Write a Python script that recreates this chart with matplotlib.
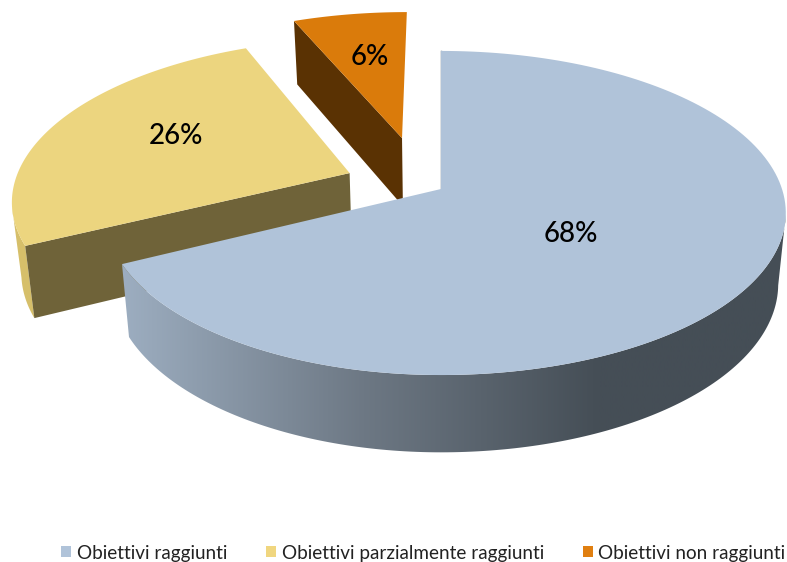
"""Exploded 3-D style pie of the objectives reached."""

from __future__ import annotations

import matplotlib

matplotlib.use("Agg")
import matplotlib.pyplot as plt
import numpy as np
from matplotlib.colors import LinearSegmentedColormap
from matplotlib.patches import Patch, Polygon

categories = [
    "Obiettivi raggiunti",
    "Obiettivi parzialmente raggiunti",
    "Obiettivi non raggiunti",
]
values = [67.7, 25.9, 6.4]

TOP_COLORS = ["#b0c3d9", "#ecd57f", "#da7b0b"]
CUT_COLORS = ["#5f6b78", "#6f6339", "#5a3203"]
LEGEND_COLORS = ["#b0c3d9", "#f0d67f", "#e07f10"]
YELLOW_RIM = "#d6bf6a"

# screen geometry of the tilted disc, in pixels
CENTER_X, CENTER_Y = 441.0, 189.0
RADIUS_X, RADIUS_Y = 341.0, 158.5
PERSPECTIVE = 0.148
RIM_LEAN = 0.022
LEFT_SQUEEZE = [0.975, 0.988, 1.0]
EXPLODE = [(0.0, 0.0), (-0.272, 0.102), (-0.12, 0.337)]
LABEL_XY = [(571, 234), (176, 136), (370, 57)]

plt.rcParams["font.family"] = ["Lato", "DejaVu Sans"]


def project(u, v):
    scale = 1.0 / (1.0 + PERSPECTIVE * np.asarray(v))
    x = CENTER_X + RADIUS_X * np.asarray(u) * scale
    y = CENTER_Y - RADIUS_Y * np.asarray(v) * scale
    return x, y, scale


def lower_edge(x, y, scale):
    # the rim gets taller towards the viewer and leans in towards the middle
    return x - RIM_LEAN * (x - CENTER_X), y + 28.0 + 42.0 * scale


def rim_points(start, end, index, count=160):
    """Points on a slice's outer edge, angles clockwise from the top in degrees."""
    angle = np.radians(np.linspace(start, end, count))
    u = np.sin(angle)
    u = np.where(u < 0, u * LEFT_SQUEEZE[index], u)
    return project(u + EXPLODE[index][0], np.cos(angle) + EXPLODE[index][1])


def side_polygon(start, end, index):
    x, y, scale = rim_points(start, end, index)
    low_x, low_y = lower_edge(x, y, scale)
    return np.column_stack(
        [np.concatenate([x, low_x[::-1]]), np.concatenate([y, low_y[::-1]])]
    )


def cut_polygon(angle, index):
    x0, y0, s0 = project(*EXPLODE[index])
    x1, y1, s1 = rim_points(angle, angle, index, count=1)
    low_x0, low_y0 = lower_edge(x0, y0, s0)
    low_x1, low_y1 = lower_edge(x1[0], y1[0], s1[0])
    return [(x0, y0), (x1[0], y1[0]), (low_x1, low_y1), (low_x0, low_y0)]


def top_polygon(start, end, index):
    x0, y0, _ = project(*EXPLODE[index])
    x, y, _ = rim_points(start, end, index)
    return np.column_stack([np.r_[x0, x], np.r_[y0, y]])


edges = np.cumsum([0.0] + values) / sum(values) * 360.0

figure, axis = plt.subplots(figsize=(7.87, 5.62), dpi=100)
figure.subplots_adjust(left=0, right=1, top=1, bottom=0)
axis.axis("off")

# yellow slice, rim only as far as its silhouette
axis.add_patch(Polygon(side_polygon(edges[1], edges[1] + 14, 1), fc=YELLOW_RIM, lw=0))
axis.add_patch(Polygon(cut_polygon(edges[1], 1), fc=CUT_COLORS[1], lw=0))
axis.add_patch(Polygon(top_polygon(edges[1], edges[2], 1), fc=TOP_COLORS[1], lw=0))

# orange slice
axis.add_patch(Polygon(cut_polygon(edges[2], 2), fc=CUT_COLORS[2], lw=0))
axis.add_patch(Polygon(top_polygon(edges[2], edges[3], 2), fc=TOP_COLORS[2], lw=0))

# blue slice: shaded rim, then the cut line and the top
shade = LinearSegmentedColormap.from_list(
    "rim", [(0.0, "#9eafc2"), (0.37, "#6d7884"), (0.72, "#454e56"), (1.0, "#454e56")]
)
rim_shape = Polygon(side_polygon(99, edges[1], 0), fc="none", lw=0)
axis.add_patch(rim_shape)
gradient = axis.imshow(
    np.linspace(0, 1, 256).reshape(1, -1),
    cmap=shade,
    extent=(115, 787, 562, 0),
    aspect="auto",
    zorder=1,
)
gradient.set_clip_path(rim_shape)
axis.set_xlim(0, 787)
axis.set_ylim(562, 0)

start_x, start_y, _ = project(0.0, 1.0)
axis.plot(
    [start_x, CENTER_X], [start_y, CENTER_Y], color=CUT_COLORS[0], lw=1.0, zorder=2
)
axis.add_patch(
    Polygon(top_polygon(edges[0], edges[1], 0), fc=TOP_COLORS[0], lw=0, zorder=3)
)

for value, (x, y) in zip(values, LABEL_XY):
    axis.text(
        x, y, f"{value:.0f}%", ha="center", va="center", fontsize=20,
        fontweight="medium", color="black", zorder=4,
    )

handles = [Patch(fc=color, lw=0) for color in LEGEND_COLORS]
axis.legend(
    handles,
    categories,
    loc="center",
    bbox_to_anchor=(423.5 / 787, 1 - 553 / 562),
    ncol=3,
    frameon=False,
    fontsize=13.6,
    handlelength=0.53,
    handleheight=0.53,
    handletextpad=0.27,
    columnspacing=2.09,
    labelcolor="#222222",
)

figure.savefig("out.png", dpi=100)
plt.close(figure)
